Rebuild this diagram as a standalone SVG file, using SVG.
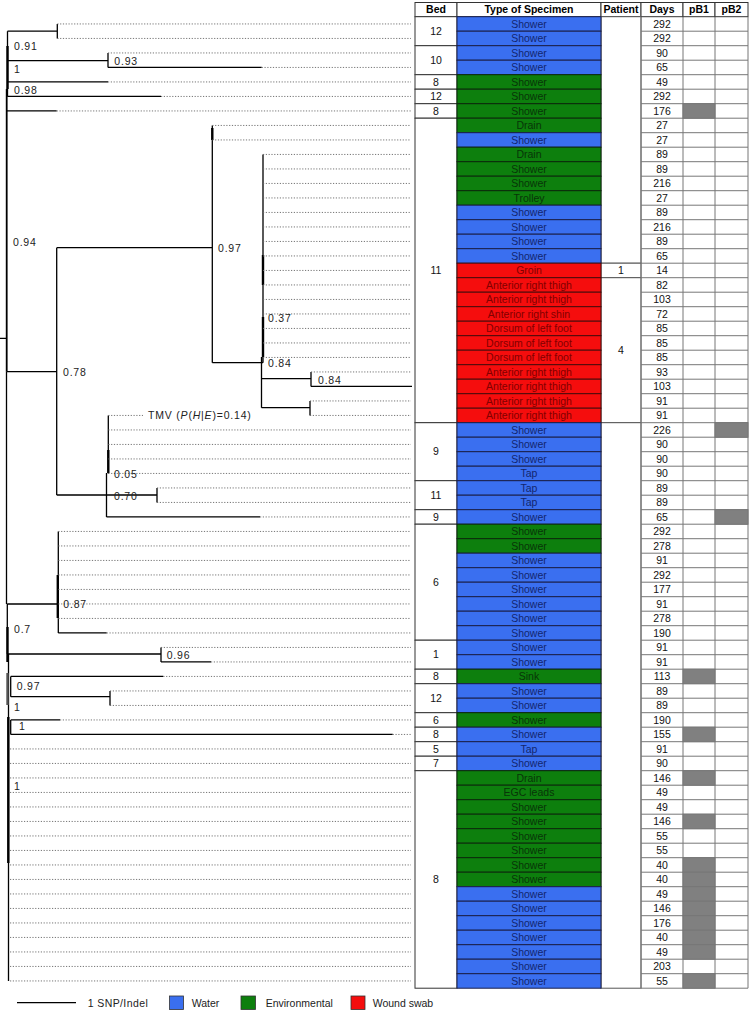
<svg xmlns="http://www.w3.org/2000/svg" width="750" height="1011" viewBox="0 0 750 1011">
<style>
.tl{stroke:#000;stroke-width:1.3;fill:none}
.md{stroke:#000;stroke-width:1.8;fill:none}
.tk{stroke:#000;stroke-width:2.4;fill:none}
.dt{stroke:#666;stroke-width:0.9;stroke-dasharray:1.2 1.6;fill:none}
.lb{font-family:"Liberation Sans",Arial,sans-serif;font-size:10.5px;letter-spacing:0.8px;fill:#222}
text{font-family:"Liberation Sans",Arial,sans-serif;font-size:10.5px}
.c{text-anchor:middle;fill:#111}
.hd{font-weight:bold;text-anchor:middle;fill:#000}
.cB{fill:#3a6ff0;stroke:#1a1f4a;stroke-width:1}
.cG{fill:#0d7f0d;stroke:#0a2a0a;stroke-width:1}
.cR{fill:#f50d0d;stroke:#4a0a0a;stroke-width:1}
.tB{fill:#13266e;text-anchor:middle}
.tG{fill:#083508;text-anchor:middle}
.tR{fill:#820000;text-anchor:middle}
.bx{fill:#fff;stroke:#333;stroke-width:1}
.px{fill:#fff;stroke:#555;stroke-width:1}
.grid{stroke:#777;stroke-width:1;fill:none}
.g{fill:#808080;stroke:#777;stroke-width:1}
</style>

<g id="connectors">
<path class="tl" d="M7.5 31.2H57.3M57.3 23.95V38.45M7.5 60.7H108M108 52.95V67.45M108 67.45H261.7M7.5 31.2V96.45M7.3 81.95H108M7.3 96.45H161M6.7 110.95H56.7M0 338.3H6.7M6.7 371.7H56.7M56.7 247.7V495M56.7 247.7H212.3M212.3 125.45V362.7M212.3 362.7H263M263 154.45V362.7M261.5 357V407.7M261.5 378.7H311M311 371.95V386.45M311 386.45H412M261.5 407.7H310M310 400.95V415.45M56.7 495H157M108.3 415.45V473.45M106.5 473V516.95M106.5 516.95H260M157 487.95V502.45M6.5 371.7V604M7.3 604H58.3M58.3 531.45V632.95M58.3 632.95H106.7M7.3 604V654M7.3 654H161M161 647.45V661.95M161 661.95H211M10.7 676.45H163.3M10.7 676.45V696.7M10.7 696.7H110M110 690.95V705.45M10.7 719.95H60M10.7 734.45H392.7M10.7 719.95V734.45M8.5 654V981"/>
<path class="md" d="M6.7 89V371.7"/>
<path class="tk" d="M7.5 46V89M212.3 128V140M263 255V285M263 317V357M108.3 450V473M57.8 575V618M7.5 627V662M8.3 717V863"/>
<path class="tk" stroke="#555" style="stroke:#555" d="M7.5 673V705"/>
<path class="dt" d="M57.3 23.95H411M57.3 38.45H411M108 52.95H411M261.7 67.45H411M108 81.95H411M161 96.45H411M56.7 110.95H411M212.3 125.45H411M212.3 139.95H411M263 154.45H411M263 168.95H411M263 183.45H411M263 197.95H411M263 212.45H411M263 226.95H411M263 241.45H411M263 255.95H411M263 270.45H411M263 284.95H411M263 299.45H411M263 313.95H411M263 328.45H411M263 342.95H411M263 357.45H411M311 371.95H411M310 400.95H411M310 415.45H411M108.3 415.45H143M108.3 429.95H411M108.3 444.45H411M108.3 458.95H411M108.3 473.45H411M157 487.95H411M157 502.45H411M260 516.95H411M58.3 531.45H411M58.3 545.95H411M58.3 560.45H411M58.3 574.95H411M58.3 589.45H411M58.3 603.95H411M58.3 618.45H411M106.7 632.95H411M161 647.45H411M211 661.95H411M163.3 676.45H411M110 690.95H411M110 705.45H411M60 719.95H411M392.7 734.45H411M10 748.95H411M10 763.45H411M10 777.95H411M10 792.45H411M10 806.95H411M10 821.45H411M10 835.95H411M10 850.45H411M10 864.95H411M10 879.45H411M10 893.95H411M10 908.45H411M10 922.95H411M10 937.45H411M10 951.95H411M10 966.45H411M10 980.95H411"/>
</g>

<g id="tree-labels">
<text class="lb" x="14" y="50.4">0.91</text>
<text class="lb" x="114.3" y="65.4">0.93</text>
<text class="lb" x="14" y="73">1</text>
<text class="lb" x="14" y="93.7">0.98</text>
<text class="lb" x="13" y="246">0.94</text>
<text class="lb" x="218" y="251.7">0.97</text>
<text class="lb" x="268" y="321.7">0.37</text>
<text class="lb" x="268" y="366.7">0.84</text>
<text class="lb" x="318" y="383.7">0.84</text>
<text class="lb" x="63" y="376">0.78</text>
<text class="lb" x="148" y="419.2">TMV (<tspan font-style="italic">P</tspan>(<tspan font-style="italic">H</tspan>|<tspan font-style="italic">E</tspan>)=0.14)</text>
<text class="lb" x="114" y="477.7">0.05</text>
<text class="lb" x="114" y="499.7">0.70</text>
<text class="lb" x="63.3" y="608">0.87</text>
<text class="lb" x="14" y="633">0.7</text>
<text class="lb" x="166.7" y="658.7">0.96</text>
<text class="lb" x="16.7" y="690.4">0.97</text>
<text class="lb" x="14" y="711">1</text>
<text class="lb" x="19" y="730.4">1</text>
<text class="lb" x="14" y="789.7">1</text>
</g>

<g id="header">
<rect class="bx" x="415" y="2.5" width="42" height="14.2"/>
<rect class="bx" x="457" y="2.5" width="144" height="14.2"/>
<rect class="bx" x="601" y="2.5" width="40" height="14.2"/>
<rect class="bx" x="641" y="2.5" width="42" height="14.2"/>
<rect class="bx" x="683" y="2.5" width="32" height="14.2"/>
<rect class="bx" x="715" y="2.5" width="33" height="14.2"/>
<text class="hd" x="436" y="13.3">Bed</text>
<text class="hd" x="529" y="13.3">Type of Specimen</text>
<text class="hd" x="621" y="13.3">Patient</text>
<text class="hd" x="662" y="13.3">Days</text>
<text class="hd" x="699" y="13.3">pB1</text>
<text class="hd" x="731.5" y="13.3">pB2</text>
</g>

<g id="bed-column">
<rect class="bx" x="415" y="16.7" width="42" height="29"/><text class="c" x="436" y="34.9">12</text>
<rect class="bx" x="415" y="45.7" width="42" height="29"/><text class="c" x="436" y="63.9">10</text>
<rect class="bx" x="415" y="74.7" width="42" height="14.5"/><text class="c" x="436" y="85.65">8</text>
<rect class="bx" x="415" y="89.2" width="42" height="14.5"/><text class="c" x="436" y="100.15">12</text>
<rect class="bx" x="415" y="103.7" width="42" height="14.5"/><text class="c" x="436" y="114.65">8</text>
<rect class="bx" x="415" y="118.2" width="42" height="304.5"/><text class="c" x="436" y="274.15">11</text>
<rect class="bx" x="415" y="422.7" width="42" height="58"/><text class="c" x="436" y="455.4">9</text>
<rect class="bx" x="415" y="480.7" width="42" height="29"/><text class="c" x="436" y="498.9">11</text>
<rect class="bx" x="415" y="509.7" width="42" height="14.5"/><text class="c" x="436" y="520.65">9</text>
<rect class="bx" x="415" y="524.2" width="42" height="116"/><text class="c" x="436" y="585.9">6</text>
<rect class="bx" x="415" y="640.2" width="42" height="29"/><text class="c" x="436" y="658.4">1</text>
<rect class="bx" x="415" y="669.2" width="42" height="14.5"/><text class="c" x="436" y="680.15">8</text>
<rect class="bx" x="415" y="683.7" width="42" height="29"/><text class="c" x="436" y="701.9">12</text>
<rect class="bx" x="415" y="712.7" width="42" height="14.5"/><text class="c" x="436" y="723.65">6</text>
<rect class="bx" x="415" y="727.2" width="42" height="14.5"/><text class="c" x="436" y="738.15">8</text>
<rect class="bx" x="415" y="741.7" width="42" height="14.5"/><text class="c" x="436" y="752.65">5</text>
<rect class="bx" x="415" y="756.2" width="42" height="14.5"/><text class="c" x="436" y="767.15">7</text>
<rect class="bx" x="415" y="770.7" width="42" height="217.5"/><text class="c" x="436" y="883.15">8</text>
</g>

<g id="patient-column">
<rect class="px" x="601" y="16.7" width="40" height="246.5"/>
<rect class="px" x="601" y="263.2" width="40" height="14.5"/><text class="c" x="621" y="274.15">1</text>
<rect class="px" x="601" y="277.7" width="40" height="145"/><text class="c" x="621" y="353.9">4</text>
<rect class="px" x="601" y="422.7" width="40" height="565.5"/>
</g>

<g id="days-grid">
<path class="grid" d="M641 16.7V988.2M683 16.7V988.2M715 16.7V988.2M748 16.7V988.2M641 31.2H748M641 45.7H748M641 60.2H748M641 74.7H748M641 89.2H748M641 103.7H748M641 118.2H748M641 132.7H748M641 147.2H748M641 161.7H748M641 176.2H748M641 190.7H748M641 205.2H748M641 219.7H748M641 234.2H748M641 248.7H748M641 263.2H748M641 277.7H748M641 292.2H748M641 306.7H748M641 321.2H748M641 335.7H748M641 350.2H748M641 364.7H748M641 379.2H748M641 393.7H748M641 408.2H748M641 422.7H748M641 437.2H748M641 451.7H748M641 466.2H748M641 480.7H748M641 495.2H748M641 509.7H748M641 524.2H748M641 538.7H748M641 553.2H748M641 567.7H748M641 582.2H748M641 596.7H748M641 611.2H748M641 625.7H748M641 640.2H748M641 654.7H748M641 669.2H748M641 683.7H748M641 698.2H748M641 712.7H748M641 727.2H748M641 741.7H748M641 756.2H748M641 770.7H748M641 785.2H748M641 799.7H748M641 814.2H748M641 828.7H748M641 843.2H748M641 857.7H748M641 872.2H748M641 886.7H748M641 901.2H748M641 915.7H748M641 930.2H748M641 944.7H748M641 959.2H748M641 973.7H748M641 988.2H748"/>
</g>

<g id="row-1" transform="translate(0,16.7)"><rect class="cB" x="457" width="144" height="14.5"/><text class="tB" x="529" y="10.95">Shower</text><text class="c" x="662" y="10.95">292</text></g>
<g id="row-2" transform="translate(0,31.2)"><rect class="cB" x="457" width="144" height="14.5"/><text class="tB" x="529" y="10.95">Shower</text><text class="c" x="662" y="10.95">292</text></g>
<g id="row-3" transform="translate(0,45.7)"><rect class="cB" x="457" width="144" height="14.5"/><text class="tB" x="529" y="10.95">Shower</text><text class="c" x="662" y="10.95">90</text></g>
<g id="row-4" transform="translate(0,60.2)"><rect class="cB" x="457" width="144" height="14.5"/><text class="tB" x="529" y="10.95">Shower</text><text class="c" x="662" y="10.95">65</text></g>
<g id="row-5" transform="translate(0,74.7)"><rect class="cG" x="457" width="144" height="14.5"/><text class="tG" x="529" y="10.95">Shower</text><text class="c" x="662" y="10.95">49</text></g>
<g id="row-6" transform="translate(0,89.2)"><rect class="cG" x="457" width="144" height="14.5"/><text class="tG" x="529" y="10.95">Shower</text><text class="c" x="662" y="10.95">292</text></g>
<g id="row-7" transform="translate(0,103.7)"><rect class="cG" x="457" width="144" height="14.5"/><text class="tG" x="529" y="10.95">Shower</text><text class="c" x="662" y="10.95">176</text><rect class="g" x="683" width="32" height="14.5"/></g>
<g id="row-8" transform="translate(0,118.2)"><rect class="cG" x="457" width="144" height="14.5"/><text class="tG" x="529" y="10.95">Drain</text><text class="c" x="662" y="10.95">27</text></g>
<g id="row-9" transform="translate(0,132.7)"><rect class="cB" x="457" width="144" height="14.5"/><text class="tB" x="529" y="10.95">Shower</text><text class="c" x="662" y="10.95">27</text></g>
<g id="row-10" transform="translate(0,147.2)"><rect class="cG" x="457" width="144" height="14.5"/><text class="tG" x="529" y="10.95">Drain</text><text class="c" x="662" y="10.95">89</text></g>
<g id="row-11" transform="translate(0,161.7)"><rect class="cG" x="457" width="144" height="14.5"/><text class="tG" x="529" y="10.95">Shower</text><text class="c" x="662" y="10.95">89</text></g>
<g id="row-12" transform="translate(0,176.2)"><rect class="cG" x="457" width="144" height="14.5"/><text class="tG" x="529" y="10.95">Shower</text><text class="c" x="662" y="10.95">216</text></g>
<g id="row-13" transform="translate(0,190.7)"><rect class="cG" x="457" width="144" height="14.5"/><text class="tG" x="529" y="10.95">Trolley</text><text class="c" x="662" y="10.95">27</text></g>
<g id="row-14" transform="translate(0,205.2)"><rect class="cB" x="457" width="144" height="14.5"/><text class="tB" x="529" y="10.95">Shower</text><text class="c" x="662" y="10.95">89</text></g>
<g id="row-15" transform="translate(0,219.7)"><rect class="cB" x="457" width="144" height="14.5"/><text class="tB" x="529" y="10.95">Shower</text><text class="c" x="662" y="10.95">216</text></g>
<g id="row-16" transform="translate(0,234.2)"><rect class="cB" x="457" width="144" height="14.5"/><text class="tB" x="529" y="10.95">Shower</text><text class="c" x="662" y="10.95">89</text></g>
<g id="row-17" transform="translate(0,248.7)"><rect class="cB" x="457" width="144" height="14.5"/><text class="tB" x="529" y="10.95">Shower</text><text class="c" x="662" y="10.95">65</text></g>
<g id="row-18" transform="translate(0,263.2)"><rect class="cR" x="457" width="144" height="14.5"/><text class="tR" x="529" y="10.95">Groin</text><text class="c" x="662" y="10.95">14</text></g>
<g id="row-19" transform="translate(0,277.7)"><rect class="cR" x="457" width="144" height="14.5"/><text class="tR" x="529" y="10.95">Anterior right thigh</text><text class="c" x="662" y="10.95">82</text></g>
<g id="row-20" transform="translate(0,292.2)"><rect class="cR" x="457" width="144" height="14.5"/><text class="tR" x="529" y="10.95">Anterior right thigh</text><text class="c" x="662" y="10.95">103</text></g>
<g id="row-21" transform="translate(0,306.7)"><rect class="cR" x="457" width="144" height="14.5"/><text class="tR" x="529" y="10.95">Anterior right shin</text><text class="c" x="662" y="10.95">72</text></g>
<g id="row-22" transform="translate(0,321.2)"><rect class="cR" x="457" width="144" height="14.5"/><text class="tR" x="529" y="10.95">Dorsum of left foot</text><text class="c" x="662" y="10.95">85</text></g>
<g id="row-23" transform="translate(0,335.7)"><rect class="cR" x="457" width="144" height="14.5"/><text class="tR" x="529" y="10.95">Dorsum of left foot</text><text class="c" x="662" y="10.95">85</text></g>
<g id="row-24" transform="translate(0,350.2)"><rect class="cR" x="457" width="144" height="14.5"/><text class="tR" x="529" y="10.95">Dorsum of left foot</text><text class="c" x="662" y="10.95">85</text></g>
<g id="row-25" transform="translate(0,364.7)"><rect class="cR" x="457" width="144" height="14.5"/><text class="tR" x="529" y="10.95">Anterior right thigh</text><text class="c" x="662" y="10.95">93</text></g>
<g id="row-26" transform="translate(0,379.2)"><rect class="cR" x="457" width="144" height="14.5"/><text class="tR" x="529" y="10.95">Anterior right thigh</text><text class="c" x="662" y="10.95">103</text></g>
<g id="row-27" transform="translate(0,393.7)"><rect class="cR" x="457" width="144" height="14.5"/><text class="tR" x="529" y="10.95">Anterior right thigh</text><text class="c" x="662" y="10.95">91</text></g>
<g id="row-28" transform="translate(0,408.2)"><rect class="cR" x="457" width="144" height="14.5"/><text class="tR" x="529" y="10.95">Anterior right thigh</text><text class="c" x="662" y="10.95">91</text></g>
<g id="row-29" transform="translate(0,422.7)"><rect class="cB" x="457" width="144" height="14.5"/><text class="tB" x="529" y="10.95">Shower</text><text class="c" x="662" y="10.95">226</text><rect class="g" x="715" width="33" height="14.5"/></g>
<g id="row-30" transform="translate(0,437.2)"><rect class="cB" x="457" width="144" height="14.5"/><text class="tB" x="529" y="10.95">Shower</text><text class="c" x="662" y="10.95">90</text></g>
<g id="row-31" transform="translate(0,451.7)"><rect class="cB" x="457" width="144" height="14.5"/><text class="tB" x="529" y="10.95">Shower</text><text class="c" x="662" y="10.95">90</text></g>
<g id="row-32" transform="translate(0,466.2)"><rect class="cB" x="457" width="144" height="14.5"/><text class="tB" x="529" y="10.95">Tap</text><text class="c" x="662" y="10.95">90</text></g>
<g id="row-33" transform="translate(0,480.7)"><rect class="cB" x="457" width="144" height="14.5"/><text class="tB" x="529" y="10.95">Tap</text><text class="c" x="662" y="10.95">89</text></g>
<g id="row-34" transform="translate(0,495.2)"><rect class="cB" x="457" width="144" height="14.5"/><text class="tB" x="529" y="10.95">Tap</text><text class="c" x="662" y="10.95">89</text></g>
<g id="row-35" transform="translate(0,509.7)"><rect class="cB" x="457" width="144" height="14.5"/><text class="tB" x="529" y="10.95">Shower</text><text class="c" x="662" y="10.95">65</text><rect class="g" x="715" width="33" height="14.5"/></g>
<g id="row-36" transform="translate(0,524.2)"><rect class="cG" x="457" width="144" height="14.5"/><text class="tG" x="529" y="10.95">Shower</text><text class="c" x="662" y="10.95">292</text></g>
<g id="row-37" transform="translate(0,538.7)"><rect class="cG" x="457" width="144" height="14.5"/><text class="tG" x="529" y="10.95">Shower</text><text class="c" x="662" y="10.95">278</text></g>
<g id="row-38" transform="translate(0,553.2)"><rect class="cB" x="457" width="144" height="14.5"/><text class="tB" x="529" y="10.95">Shower</text><text class="c" x="662" y="10.95">91</text></g>
<g id="row-39" transform="translate(0,567.7)"><rect class="cB" x="457" width="144" height="14.5"/><text class="tB" x="529" y="10.95">Shower</text><text class="c" x="662" y="10.95">292</text></g>
<g id="row-40" transform="translate(0,582.2)"><rect class="cB" x="457" width="144" height="14.5"/><text class="tB" x="529" y="10.95">Shower</text><text class="c" x="662" y="10.95">177</text></g>
<g id="row-41" transform="translate(0,596.7)"><rect class="cB" x="457" width="144" height="14.5"/><text class="tB" x="529" y="10.95">Shower</text><text class="c" x="662" y="10.95">91</text></g>
<g id="row-42" transform="translate(0,611.2)"><rect class="cB" x="457" width="144" height="14.5"/><text class="tB" x="529" y="10.95">Shower</text><text class="c" x="662" y="10.95">278</text></g>
<g id="row-43" transform="translate(0,625.7)"><rect class="cB" x="457" width="144" height="14.5"/><text class="tB" x="529" y="10.95">Shower</text><text class="c" x="662" y="10.95">190</text></g>
<g id="row-44" transform="translate(0,640.2)"><rect class="cB" x="457" width="144" height="14.5"/><text class="tB" x="529" y="10.95">Shower</text><text class="c" x="662" y="10.95">91</text></g>
<g id="row-45" transform="translate(0,654.7)"><rect class="cB" x="457" width="144" height="14.5"/><text class="tB" x="529" y="10.95">Shower</text><text class="c" x="662" y="10.95">91</text></g>
<g id="row-46" transform="translate(0,669.2)"><rect class="cG" x="457" width="144" height="14.5"/><text class="tG" x="529" y="10.95">Sink</text><text class="c" x="662" y="10.95">113</text><rect class="g" x="683" width="32" height="14.5"/></g>
<g id="row-47" transform="translate(0,683.7)"><rect class="cB" x="457" width="144" height="14.5"/><text class="tB" x="529" y="10.95">Shower</text><text class="c" x="662" y="10.95">89</text></g>
<g id="row-48" transform="translate(0,698.2)"><rect class="cB" x="457" width="144" height="14.5"/><text class="tB" x="529" y="10.95">Shower</text><text class="c" x="662" y="10.95">89</text></g>
<g id="row-49" transform="translate(0,712.7)"><rect class="cG" x="457" width="144" height="14.5"/><text class="tG" x="529" y="10.95">Shower</text><text class="c" x="662" y="10.95">190</text></g>
<g id="row-50" transform="translate(0,727.2)"><rect class="cB" x="457" width="144" height="14.5"/><text class="tB" x="529" y="10.95">Shower</text><text class="c" x="662" y="10.95">155</text><rect class="g" x="683" width="32" height="14.5"/></g>
<g id="row-51" transform="translate(0,741.7)"><rect class="cB" x="457" width="144" height="14.5"/><text class="tB" x="529" y="10.95">Tap</text><text class="c" x="662" y="10.95">91</text></g>
<g id="row-52" transform="translate(0,756.2)"><rect class="cB" x="457" width="144" height="14.5"/><text class="tB" x="529" y="10.95">Shower</text><text class="c" x="662" y="10.95">90</text></g>
<g id="row-53" transform="translate(0,770.7)"><rect class="cG" x="457" width="144" height="14.5"/><text class="tG" x="529" y="10.95">Drain</text><text class="c" x="662" y="10.95">146</text><rect class="g" x="683" width="32" height="14.5"/></g>
<g id="row-54" transform="translate(0,785.2)"><rect class="cG" x="457" width="144" height="14.5"/><text class="tG" x="529" y="10.95">EGC leads</text><text class="c" x="662" y="10.95">49</text></g>
<g id="row-55" transform="translate(0,799.7)"><rect class="cG" x="457" width="144" height="14.5"/><text class="tG" x="529" y="10.95">Shower</text><text class="c" x="662" y="10.95">49</text></g>
<g id="row-56" transform="translate(0,814.2)"><rect class="cG" x="457" width="144" height="14.5"/><text class="tG" x="529" y="10.95">Shower</text><text class="c" x="662" y="10.95">146</text><rect class="g" x="683" width="32" height="14.5"/></g>
<g id="row-57" transform="translate(0,828.7)"><rect class="cG" x="457" width="144" height="14.5"/><text class="tG" x="529" y="10.95">Shower</text><text class="c" x="662" y="10.95">55</text></g>
<g id="row-58" transform="translate(0,843.2)"><rect class="cG" x="457" width="144" height="14.5"/><text class="tG" x="529" y="10.95">Shower</text><text class="c" x="662" y="10.95">55</text></g>
<g id="row-59" transform="translate(0,857.7)"><rect class="cG" x="457" width="144" height="14.5"/><text class="tG" x="529" y="10.95">Shower</text><text class="c" x="662" y="10.95">40</text><rect class="g" x="683" width="32" height="14.5"/></g>
<g id="row-60" transform="translate(0,872.2)"><rect class="cG" x="457" width="144" height="14.5"/><text class="tG" x="529" y="10.95">Shower</text><text class="c" x="662" y="10.95">40</text><rect class="g" x="683" width="32" height="14.5"/></g>
<g id="row-61" transform="translate(0,886.7)"><rect class="cB" x="457" width="144" height="14.5"/><text class="tB" x="529" y="10.95">Shower</text><text class="c" x="662" y="10.95">49</text><rect class="g" x="683" width="32" height="14.5"/></g>
<g id="row-62" transform="translate(0,901.2)"><rect class="cB" x="457" width="144" height="14.5"/><text class="tB" x="529" y="10.95">Shower</text><text class="c" x="662" y="10.95">146</text><rect class="g" x="683" width="32" height="14.5"/></g>
<g id="row-63" transform="translate(0,915.7)"><rect class="cB" x="457" width="144" height="14.5"/><text class="tB" x="529" y="10.95">Shower</text><text class="c" x="662" y="10.95">176</text><rect class="g" x="683" width="32" height="14.5"/></g>
<g id="row-64" transform="translate(0,930.2)"><rect class="cB" x="457" width="144" height="14.5"/><text class="tB" x="529" y="10.95">Shower</text><text class="c" x="662" y="10.95">40</text><rect class="g" x="683" width="32" height="14.5"/></g>
<g id="row-65" transform="translate(0,944.7)"><rect class="cB" x="457" width="144" height="14.5"/><text class="tB" x="529" y="10.95">Shower</text><text class="c" x="662" y="10.95">49</text><rect class="g" x="683" width="32" height="14.5"/></g>
<g id="row-66" transform="translate(0,959.2)"><rect class="cB" x="457" width="144" height="14.5"/><text class="tB" x="529" y="10.95">Shower</text><text class="c" x="662" y="10.95">203</text></g>
<g id="row-67" transform="translate(0,973.7)"><rect class="cB" x="457" width="144" height="14.5"/><text class="tB" x="529" y="10.95">Shower</text><text class="c" x="662" y="10.95">55</text><rect class="g" x="683" width="32" height="14.5"/></g>

<g id="legend">
<path class="tl" d="M17 1002.7H76"/>
<text x="87.7" y="1006.5" fill="#222" letter-spacing="0.4">1 SNP/Indel</text>
<rect x="169.5" y="996" width="14" height="13.5" fill="#3a6ff0" stroke="#333" stroke-width="0.8"/>
<text x="191.7" y="1006.5" fill="#222">Water</text>
<rect x="241" y="996" width="14.5" height="13.5" fill="#0d7f0d" stroke="#333" stroke-width="0.8"/>
<text x="265.7" y="1006.5" fill="#222">Environmental</text>
<rect x="351" y="996" width="14" height="13.5" fill="#f50d0d" stroke="#333" stroke-width="0.8"/>
<text x="372.7" y="1006.5" fill="#222">Wound swab</text>
</g>
</svg>
